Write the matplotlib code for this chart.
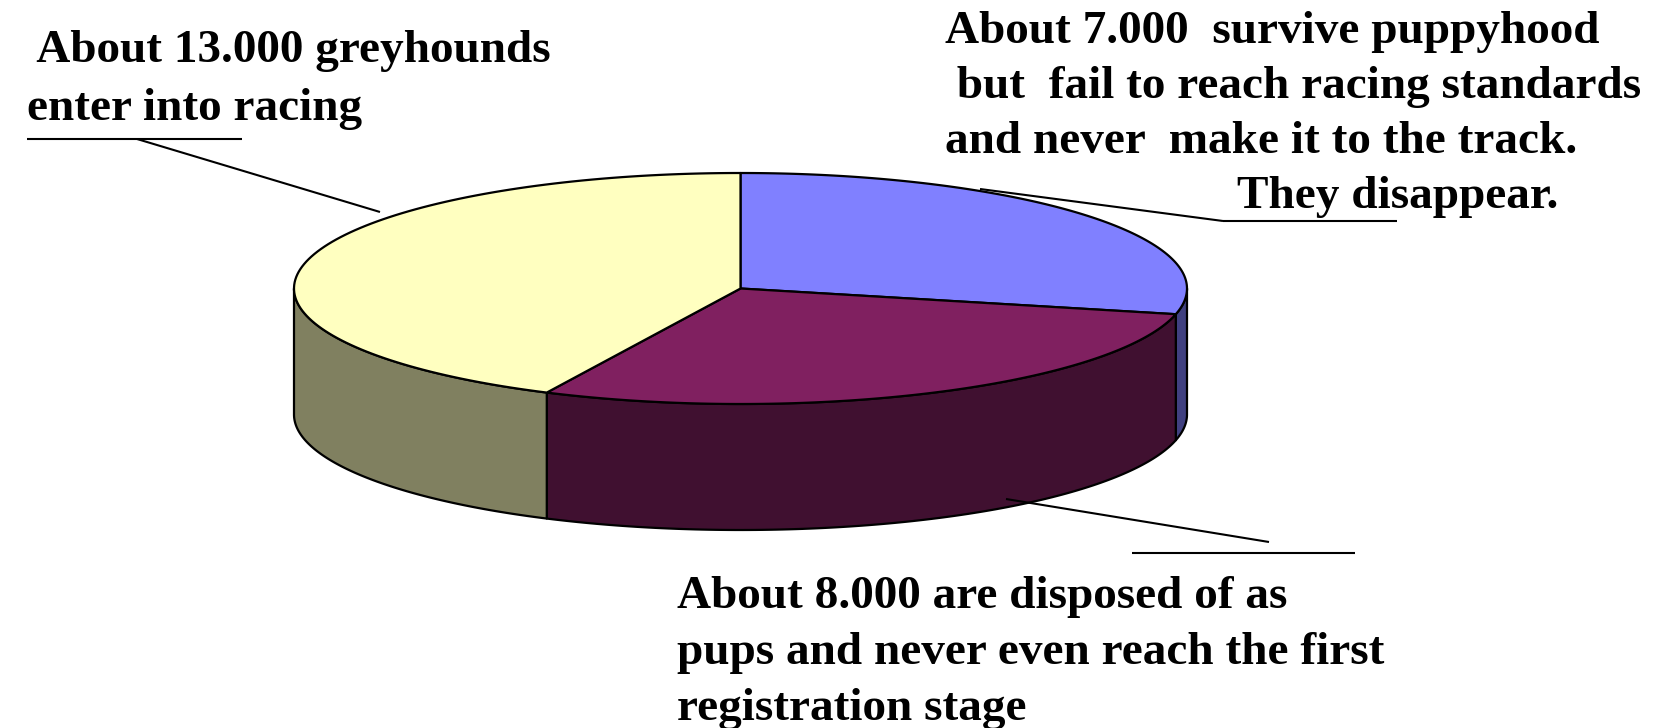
import numpy as np
import matplotlib
matplotlib.use("Agg")
import matplotlib.pyplot as plt
from matplotlib.patches import Polygon

# slice sizes as drawn (clockwise from 12 o'clock): blue, maroon, yellow
slice_names = ["survive puppyhood", "disposed of as pups", "enter into racing"]
slice_values = [8, 8, 12]
top_colors = ["#8080FF", "#802060", "#FFFFC0"]
side_colors = ["#404080", "#401030", "#808060"]

label_tl = [" About 13.000 greyhounds", "enter into racing"]
label_tr = ["About 7.000  survive puppyhood", " but  fail to reach racing standards",
            "and never  make it to the track.", "They disappear."]
label_bt = ["About 8.000 are disposed of as", "pups and never even reach the first",
            "registration stage"]

# geometry of the tilted pie, in pixels
cx, cy, ra, rb, depth = 740.5, 288.5, 446.5, 115.5, 126

fig = plt.figure(figsize=(16.79, 7.28), dpi=100)
ax = fig.add_axes([0, 0, 1, 1])
ax.set_xlim(0, 1679)
ax.set_ylim(728, 0)
ax.axis("off")


def arc(t1, t2, dy=0, n=120):
    t = np.radians(np.linspace(t1, t2, n))
    return np.column_stack([cx + ra * np.cos(t), cy - rb * np.sin(t) + dy])


total = float(sum(slice_values))
starts = []
a = 90.0
for v in slice_values:
    starts.append((a, a - 360.0 * v / total))
    a = a - 360.0 * v / total

# side walls (front half only: angles between -180 and 0)
for (t1, t2), col in zip(starts, side_colors):
    lo, hi = min(t1, t2), max(t1, t2)
    for shift in (0, -360):
        s1, s2 = max(lo + shift, -180), min(hi + shift, 0)
        if s2 > s1:
            pts = np.vstack([arc(s2, s1), arc(s1, s2, depth)])
            ax.add_patch(Polygon(pts, closed=True, facecolor=col,
                                 edgecolor="black", lw=1.6, joinstyle="round"))

# top face
for (t1, t2), col in zip(starts, top_colors):
    pts = np.vstack([[cx, cy], arc(t1, t2)])
    ax.add_patch(Polygon(pts, closed=True, facecolor=col,
                         edgecolor="black", lw=1.6, joinstyle="round"))

fkw = dict(family="Liberation Serif", weight="bold", fontsize=34,
           va="baseline", ha="left", color="black")

for i, s in enumerate(label_tl):
    ax.text(27, 62 + 58 * i, s, **fkw)
tr_x = [945, 945, 945, 1237]
for i, s in enumerate(label_tr):
    ax.text(tr_x[i], 43 + 55 * i, s, **fkw)
for i, s in enumerate(label_bt):
    ax.text(677, 608 + 56 * i, s, **fkw)

lkw = dict(color="black", lw=1.5, solid_capstyle="butt")
ax.plot([27, 242], [139, 139], **lkw)
ax.plot([137, 380], [139, 212], **lkw)
ax.plot([980, 1223], [189, 221], **lkw)
ax.plot([1223, 1397], [221, 221], **lkw)
ax.plot([1006, 1269], [499, 542], **lkw)
ax.plot([1132, 1355], [553, 553], **lkw)

fig.savefig("out.png", dpi=100, facecolor="white")
